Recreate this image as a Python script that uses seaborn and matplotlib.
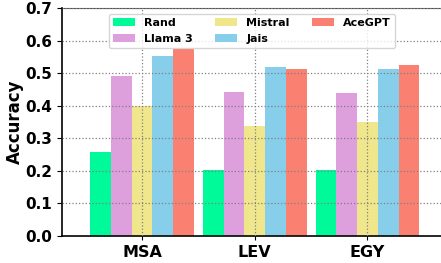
import pandas as pd
import matplotlib
matplotlib.use("Agg")
import matplotlib.pyplot as plt
import seaborn as sns

# values
dialects = ["MSA", "LEV", "EGY"]
models = ["Rand", "Llama 3", "Mistral", "Jais", "AceGPT"]
rand_acc = [0.258, 0.203, 0.203]
llama_acc = [0.492, 0.443, 0.440]
mistral_acc = [0.398, 0.338, 0.350]
jais_acc = [0.554, 0.520, 0.513]
acegpt_acc = [0.574, 0.513, 0.526]
colors = ["mediumspringgreen", "plum", "khaki", "skyblue", "salmon"]

rows = []
for model, vals in zip(models, [rand_acc, llama_acc, mistral_acc, jais_acc, acegpt_acc]):
    for d, v in zip(dialects, vals):
        rows.append({"Dialect": d, "Model": model, "Accuracy": v})
df = pd.DataFrame(rows)

plt.rcParams["font.family"] = ["DejaVu Sans"]
plt.rcParams["font.weight"] = "bold"

fig = plt.figure(figsize=(4.41, 2.63), dpi=100)
ax = fig.add_axes([62 / 441, 27 / 263, 1.0 - 62 / 441 + 0.002, 228 / 263])

sns.barplot(data=df, x="Dialect", y="Accuracy", hue="Model", order=dialects,
            hue_order=models, palette=colors, width=0.92, saturation=1,
            ax=ax, legend=True)

ax.set_xlim(-0.71, 2.66)
ax.set_ylim(0, 0.7)
ax.set_yticks([0.0, 0.1, 0.2, 0.3, 0.4, 0.5, 0.6, 0.7])
ax.set_axisbelow(False)
ax.grid(True, linestyle=":", color="gray", linewidth=0.9)

ax.set_xlabel("")
ax.set_ylabel("Accuracy", fontsize=12, fontweight="bold", labelpad=1)
for lab in ax.get_xticklabels():
    lab.set_fontsize(11.5)
    lab.set_fontweight("bold")
for lab in ax.get_yticklabels():
    lab.set_fontsize(11)
    lab.set_fontweight("bold")

ax.spines["left"].set_linewidth(1.2)
ax.spines["bottom"].set_linewidth(1.2)
ax.spines["top"].set_color("#555555")
ax.spines["right"].set_visible(False)
ax.tick_params(axis="x", length=3)

leg = ax.legend(loc="upper center", ncol=3, prop={"size": 8, "weight": "bold"},
                handlelength=2.0, columnspacing=2.0, borderaxespad=0.5)
leg.get_frame().set_edgecolor("#cccccc")

fig.savefig("out.png", dpi=100)
